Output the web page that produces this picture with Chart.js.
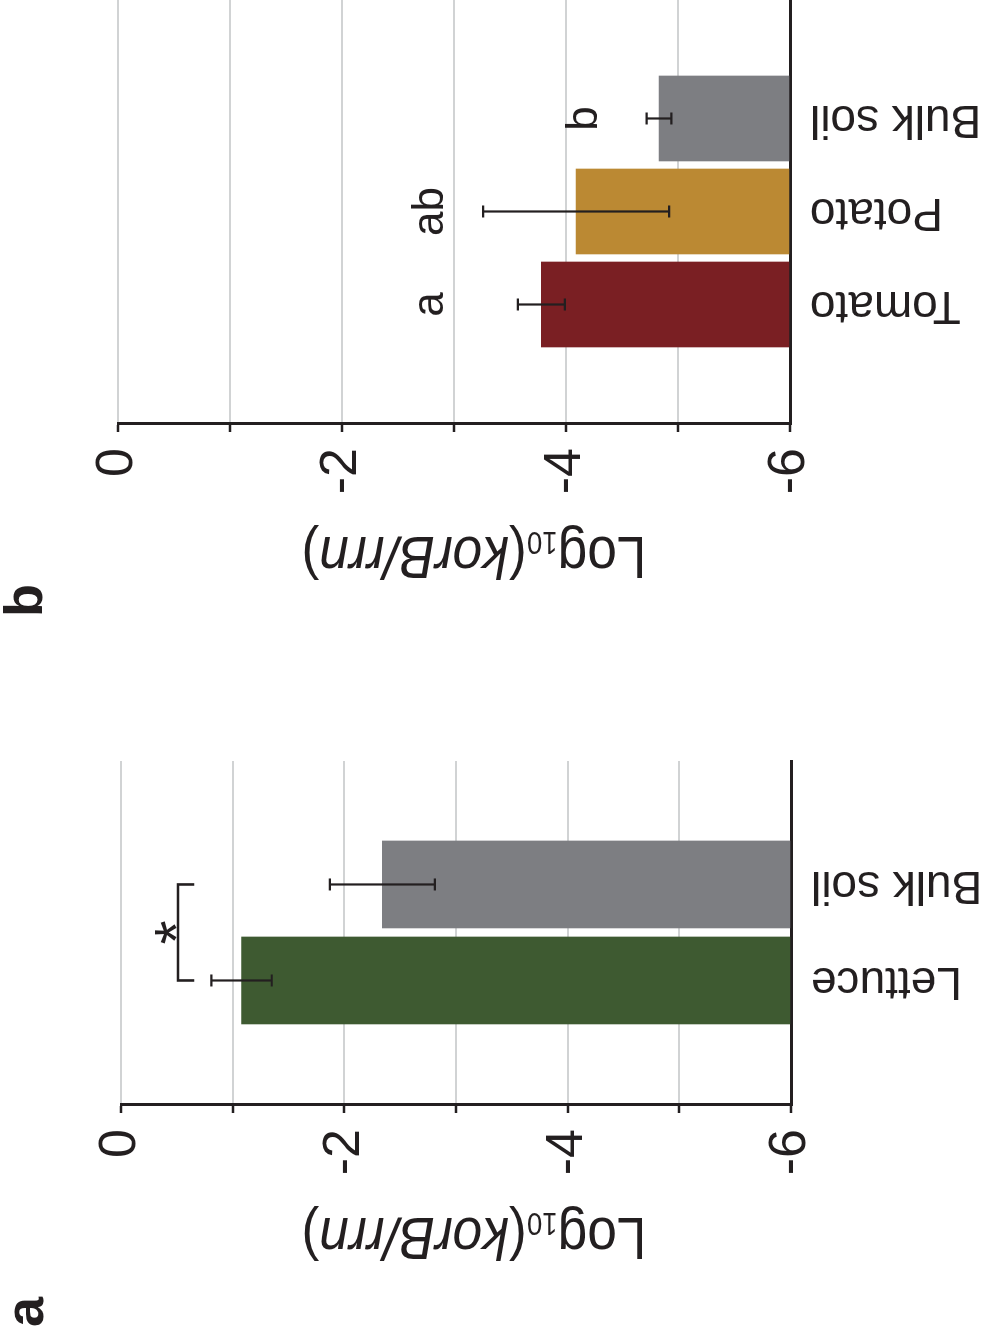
<!DOCTYPE html>
<html>
<head>
<meta charset="utf-8">
<title>korB / rrn</title>
<script src="https://cdn.jsdelivr.net/npm/chart.js@4.4.1/dist/chart.umd.min.js"></script>
<style>
    html, body { margin: 0; padding: 0; background: #fff; overflow: hidden; }
    body { width: 984px; height: 1342px; position: relative; }
    /* the figure is laid out upright (1342 x 984) and turned a quarter turn */
    #figure {
        position: absolute; left: 0; top: 0;
        width: 1342px; height: 984px;
        transform-origin: 0 0;
        transform: translateY(1342px) rotate(-90deg);
    }
    #chartA { position: absolute; left: 0; top: 0; }
    #chartB { position: absolute; left: 650px; top: 0; }
</style>
</head>
<body>
<div id="figure">
    <canvas id="chartA" width="650" height="984"></canvas>
    <canvas id="chartB" width="692" height="984"></canvas>
</div>
<script>
    const FONT = "'Liberation Sans', Arial, Helvetica, sans-serif";
    const INK = '#231f20';
    const GRID = '#d1d3d4';

    // panel a: lettuce vs bulk soil
    const lettuceCats = ['Lettuce', 'Bulk soil'];
    const lettuceMeans = [-1.08, -2.34];
    const lettuceErrs = [0.27, 0.47];
    const lettuceColors = ['#3e5a31', '#7d7e82'];

    // panel b: tomato, potato, bulk soil
    const cropCats = ['Tomato', 'Potato', 'Bulk soil'];
    const cropMeans = [-3.78, -4.09, -4.83];
    const cropErrs = [0.21, 0.83, 0.11];
    const cropColors = ['#7a1f23', '#bb8933', '#7d7e82'];
    const cropLetters = ['a', 'ab', 'b'];
    const cropLetterAt = [-2.9, -2.9, -4.28];

    // value axis
    const valueTicks = [0, -2, -4, -6];

    // 🔷 axis title with subscript + italic parts
    function drawValueTitle(ctx, baseX, centerY) {
        const parts = [
            { t: 'Log', f: '60px ' + FONT, dy: 0 },
            { t: '10', f: '31px ' + FONT, dy: 5 },
            { t: '(', f: '60px ' + FONT, dy: 0 },
            { t: 'korB/rrn', f: 'italic 60px ' + FONT, dy: 0 },
            { t: ')', f: '60px ' + FONT, dy: 0 }
        ];
        const squeeze = 0.89;
        ctx.save();
        let total = 0;
        parts.forEach(p => { ctx.font = p.f; p.w = ctx.measureText(p.t).width; total += p.w; });
        ctx.translate(baseX, centerY);
        ctx.rotate(-Math.PI / 2);
        ctx.scale(squeeze, 1);
        ctx.fillStyle = INK;
        ctx.textBaseline = 'alphabetic';
        ctx.textAlign = 'left';
        let x = -total / 2;
        parts.forEach(p => {
            ctx.font = p.f;
            ctx.fillText(p.t, x, p.dy);
            x += p.w;
        });
        ctx.restore();
    }

    // 🧩 error bars, letters, bracket, panel tag, axis title
    function extrasPlugin(p) {
        return {
            id: 'extras',
            afterDraw(chart) {
                const { ctx, scales: { x, y }, chartArea } = chart;
                ctx.save();

                // error bars
                ctx.strokeStyle = INK;
                ctx.lineWidth = 2.2;
                p.means.forEach((m, i) => {
                    const px = x.getPixelForValue(i + 1);
                    const hi = y.getPixelForValue(m + p.errs[i]);
                    const lo = y.getPixelForValue(m - p.errs[i]);
                    ctx.beginPath();
                    ctx.moveTo(px, hi); ctx.lineTo(px, lo);
                    ctx.moveTo(px - 6, hi); ctx.lineTo(px + 6, hi);
                    ctx.moveTo(px - 6, lo); ctx.lineTo(px + 6, lo);
                    ctx.stroke();
                });

                ctx.fillStyle = INK;
                ctx.textAlign = 'center';
                ctx.textBaseline = 'alphabetic';

                // group letters
                if (p.letters) {
                    ctx.font = '44px ' + FONT;
                    p.letters.forEach((l, i) => {
                        ctx.fillText(l, x.getPixelForValue(i + 1), y.getPixelForValue(p.letterAt[i]));
                    });
                }

                // significance bracket
                if (p.bracket) {
                    const b = p.bracket;
                    const x1 = x.getPixelForValue(b.from);
                    const x2 = x.getPixelForValue(b.to);
                    const yt = y.getPixelForValue(b.top);
                    const yl = y.getPixelForValue(b.leg);
                    ctx.lineWidth = 2.6;
                    ctx.beginPath();
                    ctx.moveTo(x1, yl); ctx.lineTo(x1, yt); ctx.lineTo(x2, yt); ctx.lineTo(x2, yl);
                    ctx.stroke();
                    ctx.font = '62px ' + FONT;
                    ctx.fillText(b.mark, (x1 + x2) / 2, y.getPixelForValue(b.star) + 0.575 * 62);
                }

                // panel tag
                ctx.textAlign = 'left';
                ctx.font = 'bold 54px ' + FONT;
                ctx.fillText(p.tag, p.tagX, p.tagY);

                drawValueTitle(ctx, chartArea.left - 113, 474);
                ctx.restore();
            }
        };
    }

    function makePanel(id, p) {
        const ctx = document.getElementById(id).getContext('2d');
        return new Chart(ctx, {
            type: 'bar',
            data: {
                datasets: [{
                    data: p.cats.map((c, i) => ({ x: i + 1, y: p.means[i] })),
                    backgroundColor: p.colors,
                    base: -6,
                    barThickness: p.barWidth,
                    borderWidth: 0
                }]
            },
            options: {
                responsive: false,
                animation: false,
                layout: { padding: { top: p.top, right: p.right, bottom: 0, left: 0 } },
                plugins: {
                    legend: { display: false },
                    tooltip: { enabled: false }
                },
                scales: {
                    x: {
                        type: 'linear',
                        offset: false,
                        min: p.xMin,
                        max: p.xMax,
                        afterBuildTicks: s => { s.ticks = p.cats.map((c, i) => ({ value: i + 1 })); },
                        afterFit: s => { s.height = p.bottomAxis; },
                        ticks: {
                            autoSkip: false,
                            minRotation: 90,
                            maxRotation: 90,
                            padding: 20,
                            color: INK,
                            font: { family: FONT, size: 46 },
                            callback: v => p.cats[v - 1]
                        },
                        grid: { offset: false, drawOnChartArea: false, drawTicks: false },
                        border: { color: INK, width: 3 }
                    },
                    y: {
                        min: -6,
                        max: 0,
                        afterFit: s => { s.width = p.leftAxis; },
                        ticks: {
                            stepSize: 1,
                            padding: 16,
                            color: INK,
                            font: { family: FONT, size: 52 },
                            callback: v => valueTicks.includes(v) ? String(v) : ''
                        },
                        grid: { color: GRID, lineWidth: 2, tickColor: INK, tickLength: 8, tickWidth: 2.5 },
                        border: { color: INK, width: 3 }
                    }
                }
            },
            plugins: [extrasPlugin(p)]
        });
    }

    makePanel('chartA', {
        cats: lettuceCats, means: lettuceMeans, errs: lettuceErrs, colors: lettuceColors,
        barWidth: 87, xMin: -0.297, xMax: 3.286,
        top: 121, right: 69, leftAxis: 237, bottomAxis: 193,
        bracket: { from: 1, to: 2, top: -0.51, leg: -0.655, star: -0.36, mark: '*' },
        tag: 'a', tagX: 15, tagY: 43
    });

    makePanel('chartB', {
        cats: cropCats, means: cropMeans, errs: cropErrs, colors: cropColors,
        letters: cropLetters, letterAt: cropLetterAt,
        barWidth: 85, xMin: -0.285, xMax: 4.274,
        top: 118, right: 0, leftAxis: 268, bottomAxis: 194,
        tag: 'b', tagX: 75, tagY: 42
    });
</script>
</body>
</html>
